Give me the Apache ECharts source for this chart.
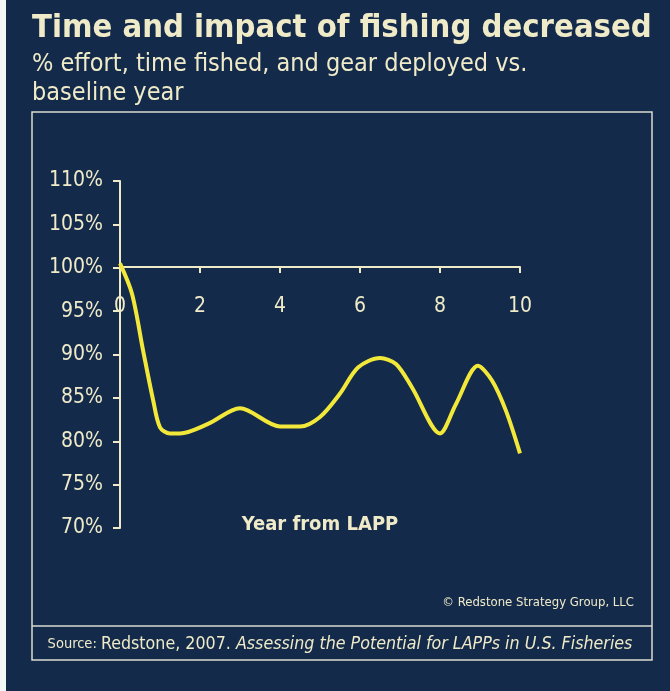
<!DOCTYPE html>
<html>
<head>
<meta charset="utf-8">
<script src="https://cdn.jsdelivr.net/npm/echarts@6/dist/echarts.min.js"></script>
<style>
html, body { margin: 0; padding: 0; background: #142a4b; }
#main { width: 670px; height: 691px; }
</style>
</head>
<body>
<div id="main"></div>
<script>
// year from LAPP and % effort vs baseline year
var years  = [0, 0.3, 0.58, 0.83, 1.0, 1.25, 1.5, 2.2, 3, 4, 4.5, 5, 5.5, 5.95, 6.5, 6.9, 7.3, 8, 8.4, 8.95, 9.3, 9.65, 10];
var effort = [100.5, 97, 90.4, 84.7, 81.6, 80.9, 80.9, 82, 83.8, 81.7, 81.7, 82.8, 85.5, 88.5, 89.6, 88.9, 86.2, 80.9, 84.3, 88.7, 87, 83.5, 78.6];
var xTicks = [0, 2, 4, 6, 8, 10];

var cream = '#efebc9';
var font = '"DejaVu Sans", sans-serif';
var cond = '"DejaVu Sans Condensed", sans-serif';

var myChart = echarts.init(document.getElementById('main'));

var data = years.map(function (y, i) { return [y, effort[i]]; });

var option = {
    backgroundColor: '#142a4b',
    animation: false,
    grid: [
        { left: 120, top: 181, width: 400, height: 347 },   // data
        { left: 120, top: 181, width: 400, height: 86 }     // x axis sits at 100%
    ],
    xAxis: [
        { gridIndex: 0, type: 'value', min: 0, max: 10, show: false },
        {
            gridIndex: 1, type: 'value', min: 0, max: 10, interval: 2,
            axisLine: { lineStyle: { color: cream, width: 2 } },
            axisTick: { length: 6, lineStyle: { color: cream, width: 2 } },
            axisLabel: { color: cream, fontSize: 21, fontFamily: cond, margin: 29,
                formatter: function (v) { return xTicks.indexOf(v) >= 0 ? v : ''; } },
            splitLine: { show: false }
        }
    ],
    yAxis: [
        {
            gridIndex: 0, type: 'value', min: 70, max: 110, interval: 5,
            axisLine: { show: true, lineStyle: { color: cream, width: 2 } },
            axisTick: { show: true, length: 7, lineStyle: { color: cream, width: 2 } },
            axisLabel: { color: cream, fontSize: 21, fontFamily: cond, margin: 17, formatter: '{value}%' },
            splitLine: { show: false }
        },
        { gridIndex: 1, type: 'value', min: 100, max: 110, show: false }
    ],
    series: [{
        type: 'line',
        xAxisIndex: 0, yAxisIndex: 0,
        data: data,
        smooth: 0.3,
        symbol: 'none',
        z: 5,
        lineStyle: { color: '#f2e83a', width: 4 }
    }],
    graphic: [
        { type: 'rect', left: 0, top: 0, shape: { width: 6, height: 691 }, style: { fill: '#f4f6f8' } },
        { type: 'text', x: 32, y: 12, style: { text: 'Time and impact of fishing decreased', fill: cream,
            font: 'bold 32.5px ' + cond } },
        { type: 'text', x: 32, y: 50, style: { text: '% effort, time fished, and gear deployed vs.\nbaseline year',
            fill: cream, font: '25px ' + cond, lineHeight: 29 } },
        { type: 'rect', shape: { x: 32, y: 112, width: 620, height: 548 },
            style: { fill: 'none', stroke: '#d9dccf', lineWidth: 1.5 } },
        { type: 'line', shape: { x1: 32, y1: 626, x2: 652, y2: 626 },
            style: { stroke: '#d9dccf', lineWidth: 1.5 } },
        { type: 'text', x: 320, y: 525, style: { text: 'Year from LAPP', fill: cream,
            font: 'bold 20px ' + cond, textAlign: 'center', textVerticalAlign: 'middle' } },
        { type: 'text', x: 634, y: 603, style: { text: '\u00a9 Redstone Strategy Group, LLC', fill: cream,
            font: '13px ' + cond, textAlign: 'right', textVerticalAlign: 'middle' } },
        { type: 'text', x: 340, y: 644, style: {
            text: '{a|Source: }{b|Redstone, 2007. }{c|Assessing the Potential for LAPPs in U.S. Fisheries}',
            textAlign: 'center', textVerticalAlign: 'middle',
            rich: {
                a: { fill: cream, fontSize: 14.5, fontFamily: cond },
                b: { fill: cream, fontSize: 17.7, fontFamily: cond },
                c: { fill: cream, fontSize: 17.7, fontFamily: cond, fontStyle: 'italic' }
            } } }
    ]
};

window.onresize = myChart.resize;
myChart.setOption(option);
</script>
</body>
</html>
